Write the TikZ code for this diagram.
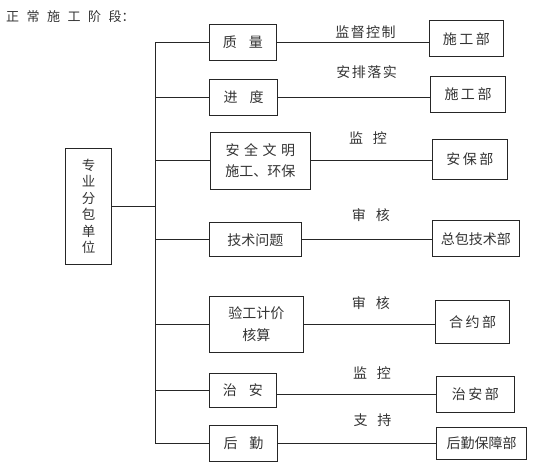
\documentclass[tikz,border=0pt]{standalone}
\usepackage{fontspec}
\newfontfamily\cjk{Noto Sans CJK SC}
\tikzset{
  box/.style={draw=black!85, line width=0.9pt, inner sep=0pt, align=center,
    font=\cjk\fontsize{14}{18}\selectfont, text=black!80},
  lbl/.style={inner sep=0pt, font=\cjk\fontsize{14}{16}\selectfont, text=black!80},
  conn/.style={draw=black!85, line width=0.9pt}
}
\newcommand\gp{\hspace{7.5pt}}
\newcommand\qs{\hspace{12pt}}
\newcommand\ls{\hspace{10pt}}
\newcommand\hs{\hspace{4.5pt}}
\newcommand\ks{\hspace{2.5pt}}
\newcommand\ts{\hspace{1.5pt}}
\begin{document}
\begin{tikzpicture}[x=1pt,y=-1pt]
\useasboundingbox (0,0) rectangle (555,466);
% title
\node[lbl, anchor=west, font=\cjk\fontsize{13}{15}\selectfont] (title) at (6,17) {正\gp 常\gp 施\gp 工\gp 阶\gp 段：};
% left unit
\node[box, minimum width=46.4pt, minimum height=116pt, font=\cjk\fontsize{13.5}{16.4}\selectfont] (L) at (88.5,206.3) {专\\业\\分\\包\\单\\位};
% middle boxes
\node[box, minimum width=67.7pt, minimum height=35.7pt] (q) at (242.9,42.2) {质\qs 量};
\node[box, minimum width=68pt, minimum height=35.7pt] (j) at (243.7,97.2) {进\qs 度};
\node[box, minimum width=99.3pt, minimum height=57pt, font=\cjk\fontsize{14}{21}\selectfont] (s) at (260.4,160.8) {安\hs 全\hs 文\hs 明\\施工、环保};
\node[box, minimum width=92.7pt, minimum height=34pt] (t) at (255.3,239.7) {技术问题};
\node[box, minimum width=94pt, minimum height=55.6pt, font=\cjk\fontsize{14}{22}\selectfont] (y) at (256.3,324.5) {验工计价\\核算};
\node[box, minimum width=67.7pt, minimum height=33.6pt] (z) at (242.9,390.5) {治\qs 安};
\node[box, minimum width=68.4pt, minimum height=35.3pt] (h) at (243.5,443.4) {后\qs 勤};
% right boxes
\node[box, minimum width=74.7pt, minimum height=36pt] (r1) at (466.4,38.7) {施\ks 工\ks 部};
\node[box, minimum width=75.4pt, minimum height=36.3pt] (r2) at (468,94.2) {施\ks 工\ks 部};
\node[box, minimum width=75.7pt, minimum height=40.3pt] (r3) at (469.9,159.2) {安\ks 保\ks 部};
\node[box, minimum width=87pt, minimum height=36pt] (r4) at (475.8,238.7) {总包技术部};
\node[box, minimum width=74pt, minimum height=42.6pt] (r5) at (472.7,322) {合\ks 约\ks 部};
\node[box, minimum width=77.3pt, minimum height=35.3pt] (r6) at (475.4,394.4) {治\ks 安\ks 部};
\node[box, minimum width=89.6pt, minimum height=31.6pt] (r7) at (481.5,443.5) {后勤保障部};
% trunk
\coordinate (trunk) at (155,0);
\draw[conn] (q.west -| trunk) -- (h.west -| trunk);
\draw[conn] (L.east) -- (L.east -| trunk);
\foreach \b in {q,j,s,t,y,z,h}{
  \draw[conn] (\b.west) -- (\b.west -| trunk);
}
% right connectors
\draw[conn] (q.east) -- (q.east -| r1.west);
\draw[conn] (j.east) -- (j.east -| r2.west);
\draw[conn] (s.east) -- (s.east -| r3.west);
\draw[conn] (t.east) -- (t.east -| r4.west);
\draw[conn] (y.east) -- (y.east -| r5.west);
\draw[conn] (z.east |- r6.west) -- (r6.west);
\draw[conn] (h.east) -- (h.east -| r7.west);
% labels
\node[lbl] (l1) at (365.5,31.7) {监\ts 督\ts 控\ts 制};
\node[lbl] (l2) at (366.7,71.7) {安\ts 排\ts 落\ts 实};
\node[lbl] (l3) at (368,137.7) {监\ls 控};
\node[lbl] (l4) at (370.8,215) {审\ls 核};
\node[lbl] (l5) at (370.8,303.3) {审\ls 核};
\node[lbl] (l6) at (372,372.7) {监\ls 控};
\node[lbl] (l7) at (372.5,420) {支\ls 持};
\end{tikzpicture}
\end{document}
